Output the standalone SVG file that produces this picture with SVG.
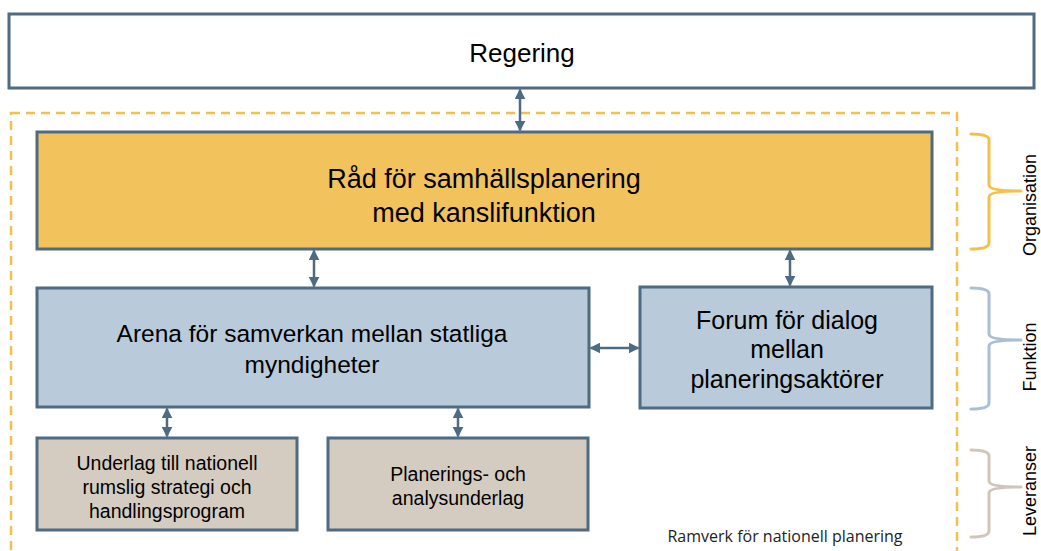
<svg xmlns="http://www.w3.org/2000/svg" width="1041" height="551" viewBox="0 0 1041 551">
<style>
.box{stroke:#4F6B82;stroke-width:3}
.t{font-family:"Liberation Sans",Arial,sans-serif;fill:#000;text-anchor:middle}
.con{stroke:#4F6B82;stroke-width:2.5;fill:none;marker-start:url(#ah);marker-end:url(#ah)}
.brace{fill:none;stroke-width:3;stroke-linecap:round;stroke-linejoin:round}
.lab{font-family:"Liberation Sans",Arial,sans-serif;font-size:18px;fill:#000;text-anchor:middle}
</style>
<defs>
<marker id="ah" viewBox="0 0 10 10" refX="9" refY="5" markerWidth="4.4" markerHeight="4.4" orient="auto-start-reverse" markerUnits="strokeWidth">
<path d="M0,0 L10,5 L0,10 z" fill="#4F6B82"/>
</marker>
</defs>
<rect width="1041" height="551" fill="#fff"/>
<g id="ramverk">
<rect x="11" y="113" width="946" height="450" fill="none" stroke="#F5C04A" stroke-width="2.5" stroke-dasharray="9,6"/>
<text x="785" y="542" font-family="'Open Sans','Liberation Sans',sans-serif" font-size="16" text-anchor="middle" fill="#222">Ramverk för nationell planering</text>
</g>
<g id="regering">
<rect class="box" x="9" y="14" width="1025" height="74" fill="#fff"/>
<text class="t" x="522" y="62" font-size="26">Regering</text>
</g>
<g id="rad">
<rect class="box" x="37" y="132" width="895" height="117" fill="#F2C35D"/>
<text class="t" x="484" y="188" font-size="27">Råd för samhällsplanering</text>
<text class="t" x="484" y="222" font-size="27">med kanslifunktion</text>
</g>
<g id="arena">
<rect class="box" x="37" y="288" width="552" height="119" fill="#B9CADA"/>
<text class="t" x="312" y="342" font-size="24.5">Arena för samverkan mellan statliga</text>
<text class="t" x="312" y="373" font-size="24.5">myndigheter</text>
</g>
<g id="forum">
<rect class="box" x="640" y="287" width="292" height="121" fill="#B9CADA"/>
<text class="t" x="787" y="329" font-size="25">Forum för dialog</text>
<text class="t" x="787" y="358" font-size="25">mellan</text>
<text class="t" x="787" y="388" font-size="25">planeringsaktörer</text>
</g>
<g id="underlag">
<rect class="box" x="37" y="438" width="260" height="92" fill="#D4CCC0"/>
<text class="t" x="167" y="470" font-size="19.5">Underlag till nationell</text>
<text class="t" x="167" y="494" font-size="19.5">rumslig strategi och</text>
<text class="t" x="167" y="518" font-size="19.5">handlingsprogram</text>
</g>
<g id="planerings">
<rect class="box" x="328" y="438" width="260" height="92" fill="#D4CCC0"/>
<text class="t" x="458" y="481" font-size="19.5">Planerings- och</text>
<text class="t" x="458" y="505" font-size="19.5">analysunderlag</text>
</g>
<g id="connectors">
<line class="con" x1="520" y1="89.5" x2="520" y2="130.5"/>
<line class="con" x1="314" y1="250.5" x2="314" y2="286.5"/>
<line class="con" x1="790" y1="250.5" x2="790" y2="285.5"/>
<line class="con" x1="590.5" y1="348" x2="638.5" y2="348"/>
<line class="con" x1="167" y1="408.5" x2="167" y2="436.5"/>
<line class="con" x1="458" y1="408.5" x2="458" y2="436.5"/>
</g>
<g id="organisation">
<path class="brace" stroke="#F5C04A" d="M971,134 Q989,134 989,140 L989,185 Q989,191 1021,191 Q989,191 989,197 L989,243 Q989,249 971,249"/>
<text class="lab" transform="translate(1036,205) rotate(-90)">Organisation</text>
</g>
<g id="funktion">
<path class="brace" stroke="#A9BFD4" d="M971,288 Q989,288 989,294 L989,334 Q989,340 1021,340 Q989,340 989,346 L989,403 Q989,409 971,409"/>
<text class="lab" transform="translate(1036,357) rotate(-90)">Funktion</text>
</g>
<g id="leveranser">
<path class="brace" stroke="#CFC6B8" d="M971,450 Q989,450 989,456 L989,481 Q989,487 1021,487 Q989,487 989,493 L989,531 Q989,537 971,537"/>
<text class="lab" transform="translate(1036,491) rotate(-90)">Leveranser</text>
</g>
</svg>
